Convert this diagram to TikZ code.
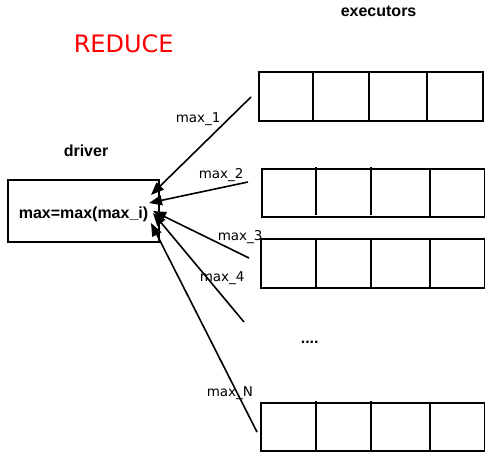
\documentclass[tikz,border=0pt]{standalone}
\usepackage{fontspec}
\setmainfont{DejaVu Sans}
\newfontfamily\headfont{Liberation Sans}
\usetikzlibrary{arrows.meta}
\definecolor{reducered}{RGB}{255,0,0}

\tikzset{
  lbl/.style={anchor=base west,inner sep=0pt,font=\fontsize{13.5}{16}\selectfont},
  head/.style={anchor=base west,inner sep=0pt,font=\headfont\bfseries\fontsize{16}{19}\selectfont},
  cell/.style={line width=1.7pt}
}

\begin{document}
\begin{tikzpicture}[x=1pt,y=-1pt,line width=1.6pt,>={Triangle[length=13pt,width=10pt]}]
  \useasboundingbox (0,0) rectangle (485,452);
  % titles
  \node[anchor=base west,inner sep=0pt,text=reducered,font=\fontsize{24}{28}\selectfont] (title) at (73,53) {REDUCE};
  \node[head] (exlbl) at (340,17) {executors};
  \node[head] (drvlbl) at (63,157) {driver};
  % driver
  \draw[cell] (8,180) rectangle (159,242);
  \node[head] (driver) at (18,218) {max=max(max\_i)};
  % executors
  \draw[cell] (259,72) rectangle (483,121);
  \draw[cell] (313,72) -- (313,121) (369,72) -- (369,121) (427,72) -- (427,121);
  \draw[cell] (262,169) rectangle (485,217);
  \draw[cell] (316,167) -- (316,215) (371,167) -- (371,215) (430,169) -- (430,217);
  \draw[cell] (261,239) rectangle (485,288);
  \draw[cell] (316,239) -- (316,288) (371,239) -- (371,288) (430,239) -- (430,288);
  \draw[cell] (261,403) rectangle (485,451);
  \draw[cell] (316,401) -- (316,451) (371,401) -- (371,451) (430,403) -- (430,451);
  \node[head] (dots) at (300,343) {....};
  % partial maxima
  \coordinate (s1) at (251,97);
  \coordinate (s2) at (248,182);
  \coordinate (s3) at (249,258);
  \coordinate (s4) at (244,322);
  \coordinate (sN) at (257,432);
  \coordinate (t1) at (151,195);
  \coordinate (t2) at (149,203);
  \coordinate (t3) at (153,211);
  \coordinate (t4) at (153,213);
  \coordinate (tN) at (151,223);
  \draw[->] (s1) -- (t1);
  \draw[->] (s2) -- (t2);
  \draw[->] (s3) -- (t3);
  \draw[->] (s4) -- (t4);
  \draw[->] (sN) -- (tN);
  \node[lbl] (m1) at (175,122) {max\_1};
  \node[lbl] (m2) at (198,178) {max\_2};
  \node[lbl] (m3) at (217,240) {max\_3};
  \node[lbl] (m4) at (199,281) {max\_4};
  \node[lbl] (mN) at (206,396) {max\_N};
\end{tikzpicture}
\end{document}
